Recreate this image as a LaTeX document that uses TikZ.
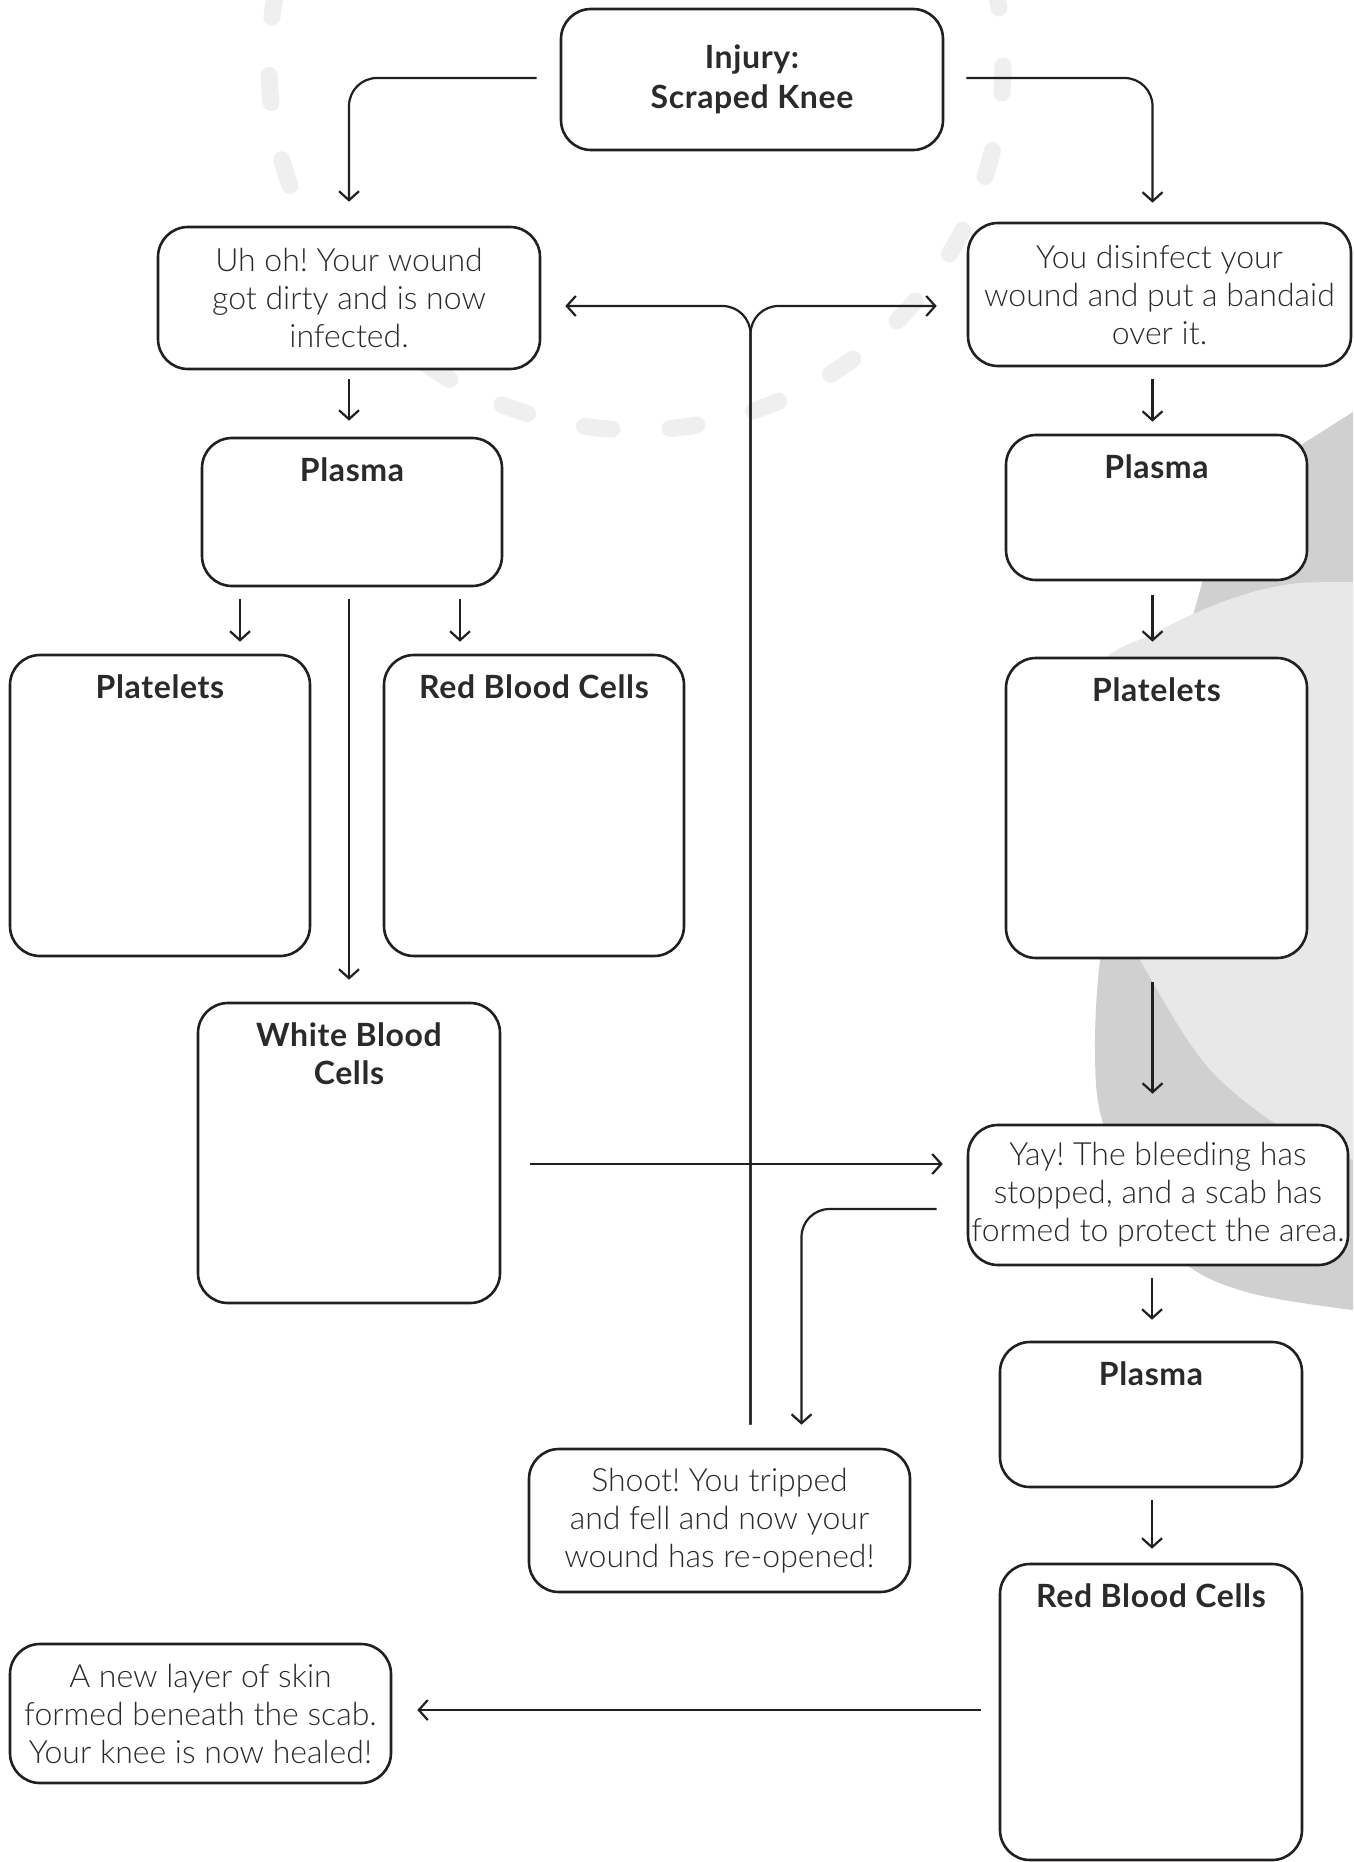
\documentclass[tikz,border=0pt]{standalone}
\usepackage{fontspec}
\setmainfont{Lato Light}[BoldFont={Lato Bold}, BoldFeatures={LetterSpace=2}]
\usetikzlibrary{arrows.meta}
\definecolor{ink}{HTML}{231F20}
\definecolor{txt}{HTML}{2A2A2A}
\definecolor{dashgray}{HTML}{EFEFEF}
\definecolor{blobdark}{HTML}{D0D0D0}
\definecolor{bloblight}{HTML}{E8E8E8}
\newcommand{\bodysize}{\fontsize{32}{38}\selectfont}
\newcommand{\headsize}{\fontsize{32}{40}\selectfont}
\frenchspacing
\begin{document}
\begin{tikzpicture}[x=1pt,y=-1pt,
  box/.style={draw=ink, line width=2.6pt, rounded corners=30pt, fill=white,
    text=txt, align=center, inner sep=0pt, font=\bodysize},
  titled/.style={label={[anchor=north, inner sep=0pt, yshift=-21pt, text=txt,
    align=center, font=\bodysize\bfseries]north:#1}},
  conn/.style={draw=ink, line width=2.2pt, -{Straight Barb[length=9pt,width=20pt]}},
  elbow/.style={rounded corners=28pt}]

% canvas
\useasboundingbox (0,0) rectangle (1353,1862);
\fill[white] (0,0) rectangle (1353,1862);

% decorative background
\begin{scope}
  \clip (0,0) rectangle (1353,1862);
  \draw[dashgray, line width=17pt, line cap=round, dash pattern=on 27pt off 58.4pt]
    (636,63) ++(98:367) arc[start angle=98, end angle=-262, radius=367];
  \fill[blobdark] plot[smooth, tension=0.6] coordinates {
    (1353,412) (1320,433) (1280,460) (1240,505) (1210,560) (1193,615)
    (1150,760) (1115,880) (1100,960) (1095,1050) (1102,1120) (1135,1200)
    (1183,1262) (1250,1293) (1353,1310)}
    -- (1400,1310) -- (1400,412) -- cycle;
  \fill[bloblight] plot[smooth, tension=0.5] coordinates {
    (1353,582) (1300,583) (1260,590) (1225,601) (1193,614) (1150,635)
    (1107,657) (1090,700) (1085,800) (1105,900) (1140,960) (1183,1033)
    (1217,1077) (1270,1120) (1330,1150) (1353,1160)}
    -- (1400,1160) -- (1400,582) -- cycle;
\end{scope}

% boxes
\node[box, font=\headsize\bfseries, minimum width=382pt, minimum height=141pt] (injury) at (752,79.5) {Injury:\\Scraped Knee};
\node[box, minimum width=382pt, minimum height=142pt] (uhoh) at (349,298) {Uh oh! Your wound\\got dirty and is now\\infected.};
\node[box, minimum width=383pt, minimum height=143pt] (disinfect) at (1159.5,294.5) {You disinfect your\\wound and put a bandaid\\over it.};
\node[box, titled=Plasma, minimum width=300pt, minimum height=148pt] (plasmaL) at (352,512) {};
\node[box, titled=Platelets, minimum width=300pt, minimum height=301pt] (plateletsL) at (160,805.5) {};
\node[box, titled=Red Blood Cells, minimum width=300pt, minimum height=301pt] (rbcL) at (534,805.5) {};
\node[box, titled={White Blood\\Cells}, minimum width=302pt, minimum height=300pt] (wbc) at (349,1153) {};
\node[box, titled=Plasma, minimum width=301pt, minimum height=145pt] (plasmaR) at (1156.5,507.5) {};
\node[box, titled=Platelets, minimum width=301pt, minimum height=300pt] (plateletsR) at (1156.5,808) {};
\node[box, minimum width=380pt, minimum height=140pt] (yay) at (1158,1195) {Yay! The bleeding has\\stopped, and a scab has\\formed to protect the area.};
\node[box, titled=Plasma, minimum width=302pt, minimum height=145pt] (plasmaR2) at (1151,1414.5) {};
\node[box, titled=Red Blood Cells, minimum width=302pt, minimum height=296pt] (rbcR) at (1151,1712) {};
\node[box, minimum width=381pt, minimum height=143pt] (shoot) at (719.5,1520.5) {Shoot! You tripped\\and fell and now your\\wound has re-opened!};
\node[box, minimum width=381pt, minimum height=139pt] (healed) at (200.5,1713.5) {A new layer of skin\\formed beneath the scab.\\Your knee is now healed!};

% connectors from the injury
\draw[conn, elbow] ([xshift=-23pt,yshift=1.5pt]injury.west) -| ([yshift=24pt]uhoh.north);
\draw[conn, elbow] ([xshift=22pt,yshift=1.5pt]injury.east) -| ([xshift=-7pt,yshift=19pt]disinfect.north);

% re-opened wound feeds back to both branches
\draw[conn, elbow] ([xshift=31pt,yshift=23pt]shoot.north) |- ([xshift=24pt,yshift=-8pt]uhoh.east);
\draw[conn, elbow] ([xshift=31pt,yshift=23pt]shoot.north) |- ([xshift=-30pt,yshift=-11.5pt]disinfect.west);

% infected branch
\draw[conn, shorten <=9pt, shorten >=16pt] (uhoh.south) -- (uhoh.south |- plasmaL.north);
\draw[conn, shorten <=12pt, shorten >=12pt] ([xshift=-112pt]plasmaL.south) -- ([xshift=-112pt]plasmaL.south |- plateletsL.north);
\draw[conn, shorten <=12pt, shorten >=12pt] ([xshift=108pt]plasmaL.south) -- ([xshift=108pt]plasmaL.south |- rbcL.north);
\draw[conn, shorten <=12pt, shorten >=22pt] ([xshift=-3pt]plasmaL.south) -- ([xshift=-3pt]plasmaL.south |- wbc.north);
\draw[conn, shorten <=29pt, shorten >=24pt] ([yshift=-11pt]wbc.east) -- ([yshift=-11pt]wbc.east -| yay.west);

% clean branch
\draw[conn, shorten <=12pt, shorten >=12pt] ([xshift=-7pt]disinfect.south) -- ([xshift=-7pt]disinfect.south |- plasmaR.north);
\draw[conn, shorten <=14pt, shorten >=15pt] ([xshift=-4pt]plasmaR.south) -- ([xshift=-4pt]plasmaR.south |- plateletsR.north);
\draw[conn, shorten <=23pt, shorten >=30pt] ([xshift=-4pt]plateletsR.south) -- ([xshift=-4pt]plateletsR.south |- yay.north);
\draw[conn, shorten <=12pt, shorten >=21pt] ([xshift=-6pt]yay.south) -- ([xshift=-6pt]yay.south |- plasmaR2.north);
\draw[conn, shorten <=12pt, shorten >=14pt] ([xshift=1pt]plasmaR2.south) -- ([xshift=1pt]plasmaR2.south |- rbcR.north);
\draw[conn, shorten <=18pt, shorten >=25pt] ([yshift=2pt]rbcR.west) -- ([yshift=2pt]rbcR.west -| healed.east);

% scab knocked off
\draw[conn, elbow] ([xshift=-30pt,yshift=-14pt]yay.west) -| ([xshift=82pt,yshift=23pt]shoot.north);
\end{tikzpicture}
\end{document}
